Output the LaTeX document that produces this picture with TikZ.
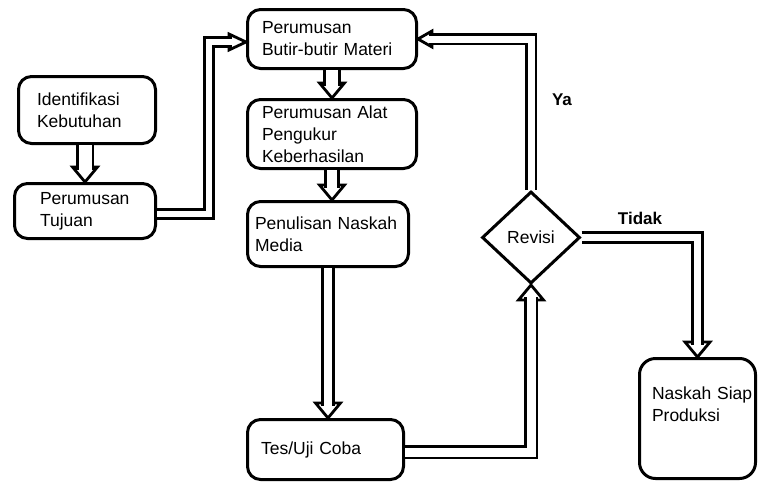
\documentclass[tikz,border=0pt]{standalone}
\usepackage{fontspec}
\setmainfont{Liberation Sans}
\usetikzlibrary{shapes.geometric}

% hollow block-arrow heads, tip at the given point
\newcommand\ahdown[1]{\draw[headst] (#1) -- ++(-12.5,-15) -- ++(25,0) -- cycle;}
\newcommand\ahup[1]{\draw[headst] (#1) -- ++(-12.5,15) -- ++(25,0) -- cycle;}
\newcommand\ahright[1]{\draw[headst] (#1) -- ++(-17,-8) -- ++(0,16) -- cycle;}
\newcommand\ahleft[1]{\draw[headst] (#1) -- ++(14,-8) -- ++(0,16) -- cycle;}

\tikzset{
  txt/.style={font=\fontsize{17.5pt}{22pt}\selectfont},
  stepbox/.style={txt, draw, line width=3pt, rounded corners=13pt,
    align=left, inner ysep=0pt},
  decision/.style={txt, draw, diamond, line width=3pt, inner sep=0pt,
    minimum width=98pt, minimum height=92pt},
  headst/.style={draw, fill=white, line width=2.8pt, line join=miter},
  shaft/.style={draw, line width=2.8pt, double=white, double distance=#1,
    line join=miter, line cap=butt},
  shaft/.default=7.5pt,
  tag/.style={font=\fontsize{17pt}{20pt}\selectfont\bfseries}
}

\begin{document}
\begin{tikzpicture}[x=1pt, y=-1pt]
  \useasboundingbox (0,0) rectangle (760,482);
  \fill[white] (0,0) rectangle (760,482);

  % process boxes
  \node[stepbox, minimum width=137pt, minimum height=67pt,
        inner xsep=18.5pt, text width=100pt] (ident) at (87,110)
        {Identifikasi\\Kebutuhan};
  \node[stepbox, minimum width=141pt, minimum height=55pt,
        inner xsep=25.5pt, text width=90pt] (tujuan) at (85,211)
        {Perumusan\\Tujuan};
  \node[stepbox, minimum width=169pt, minimum height=59pt,
        inner xsep=14.5pt, text width=140pt] (butir) at (332,39)
        {Perumusan\\Butir-butir Materi};
  \node[stepbox, minimum width=169pt, minimum height=69pt,
        inner xsep=14.5pt, text width=140pt] (alat) at (332,134)
        {Perumusan Alat\\Pengukur\\Keberhasilan};
  \node[stepbox, minimum width=161pt, minimum height=65pt,
        inner xsep=7.5pt, text width=146pt] (media) at (328,234)
        {Penulisan Naskah\\Media};
  \node[stepbox, minimum width=156pt, minimum height=60pt,
        inner xsep=13.5pt, text width=129pt] (tes) at (325.5,449.5)
        {Tes/Uji Coba};
  \node[stepbox, rounded corners=16pt, minimum width=116pt,
        minimum height=120pt, inner xsep=0pt, text width=116pt]
        (siap) at (697.5,418.5)
        {\hspace*{12.5pt}Naskah Siap\\\hspace*{12.5pt}Produksi\\[7pt]\rule{0pt}{0pt}};

  % decision
  \node[decision] (revisi) at (531,237.5) {Revisi};

  % arrow heads
  \ahdown{tujuan.north}
  \ahdown{alat.north}
  \ahdown{alat.south |- media.north}
  \ahdown{media.south |- tes.north}
  \ahup{revisi.south}
  \ahdown{siap.north}
  \ahright{[yshift=-3pt]butir.west}
  \ahleft{butir.east}

  % arrow shafts
  \draw[shaft=13pt, shorten >=12pt] (tujuan.north |- ident.south) -- (tujuan.north);
  \draw[shaft=12pt, shorten >=12pt] (butir.south) -- (alat.north);
  \draw[shaft=10pt, shorten >=12pt] (alat.south) -- (alat.south |- media.north);
  \draw[shaft=8pt, shorten >=12pt] (media.south) -- (media.south |- tes.north);
  \draw[shaft=6.5pt, shorten >=14pt] ([yshift=-3pt]tujuan.east) -- ++(52,0)
        |- ([yshift=-3pt]butir.west);
  \draw[shaft=9pt, shorten >=12pt] ([yshift=-2.5pt]tes.east) -| (revisi.south);
  \draw[shaft=7pt, shorten >=11pt] (revisi.north) |- (butir.east);
  \draw[shaft=7.5pt, shorten >=12pt] (revisi.east) -| (siap.north);

  % branch labels
  \node[tag] (ya) at (562,100) {Ya};
  \node[tag] (tidak) at (640,218) {Tidak};
\end{tikzpicture}
\end{document}
